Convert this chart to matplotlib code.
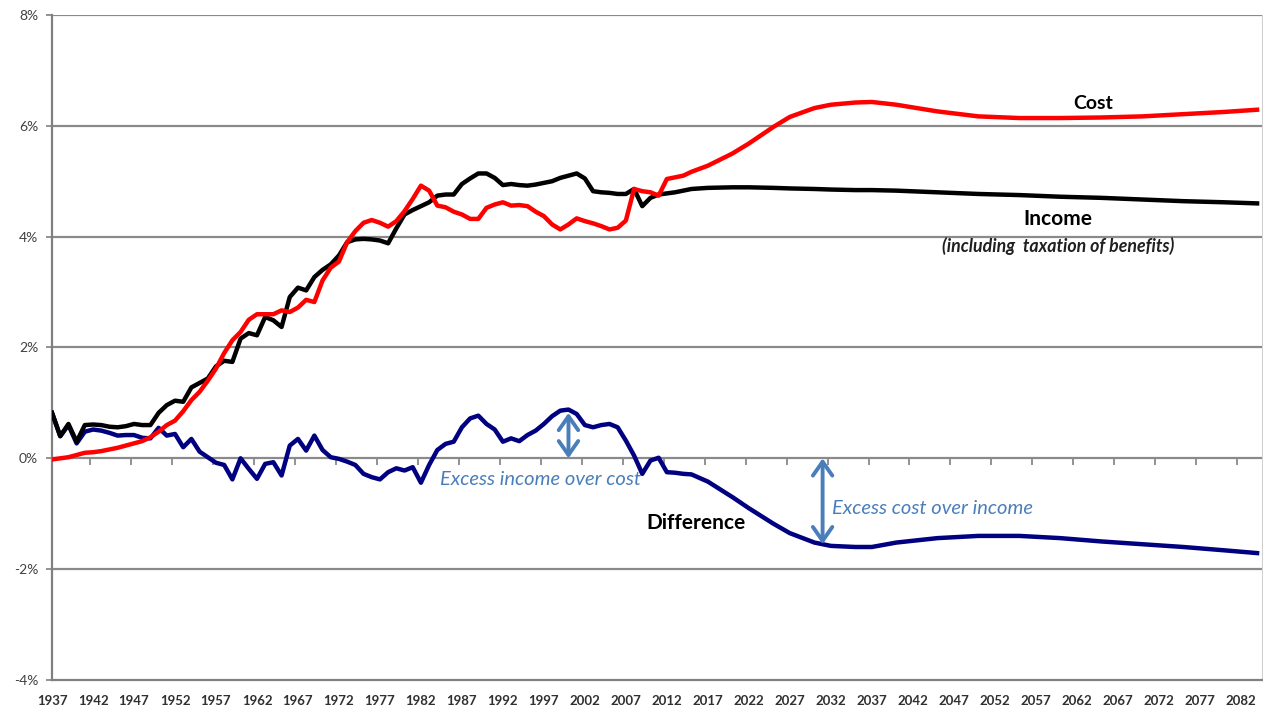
import matplotlib
matplotlib.use("Agg")
import matplotlib.pyplot as plt
import numpy as np

plt.rcParams['font.family'] = ['Lato', 'DejaVu Sans']

# annual history, then sparser projection points
years = list(range(1937, 2016)) + [2017, 2020, 2022, 2025, 2027, 2030, 2032, 2035, 2037,
                                   2040, 2045, 2050, 2055, 2060, 2065, 2070, 2075, 2080, 2084]

income = [0.82, 0.40, 0.62, 0.30, 0.60, 0.61, 0.60, 0.57, 0.56, 0.58,
          0.62, 0.60, 0.60, 0.82, 0.96, 1.04, 1.02, 1.28, 1.36, 1.44,
          1.66, 1.76, 1.74, 2.16, 2.26, 2.22, 2.55, 2.49, 2.37, 2.91,
          3.08, 3.03, 3.27, 3.40, 3.50, 3.66, 3.90, 3.95, 3.96, 3.95,
          3.93, 3.88, 4.15, 4.40, 4.48, 4.55, 4.62, 4.74, 4.76, 4.76,
          4.95, 5.05, 5.14, 5.14, 5.06, 4.93, 4.95, 4.93, 4.92, 4.94,
          4.97, 5.00, 5.06, 5.10, 5.14, 5.05, 4.82, 4.80, 4.79, 4.77,
          4.77, 4.86, 4.55, 4.70, 4.76, 4.78, 4.80, 4.83, 4.86,
          4.88, 4.89, 4.89, 4.88, 4.87, 4.86, 4.85, 4.84, 4.84,
          4.83, 4.80, 4.77, 4.75, 4.72, 4.70, 4.67, 4.64, 4.62, 4.60]

cost = [-0.02, 0.00, 0.02, 0.06, 0.10, 0.11, 0.13, 0.16, 0.19, 0.23,
        0.27, 0.31, 0.38, 0.48, 0.60, 0.68, 0.85, 1.05, 1.20, 1.40,
        1.62, 1.90, 2.13, 2.28, 2.50, 2.60, 2.60, 2.60, 2.67, 2.64,
        2.72, 2.86, 2.82, 3.21, 3.44, 3.55, 3.90, 4.10, 4.25, 4.30,
        4.25, 4.18, 4.28, 4.46, 4.68, 4.92, 4.83, 4.56, 4.53, 4.45,
        4.40, 4.32, 4.32, 4.52, 4.58, 4.62, 4.56, 4.57, 4.55, 4.45,
        4.37, 4.22, 4.13, 4.22, 4.33, 4.28, 4.24, 4.19, 4.13, 4.16,
        4.29, 4.86, 4.82, 4.80, 4.74, 5.04, 5.07, 5.10, 5.17,
        5.28, 5.50, 5.68, 5.98, 6.16, 6.32, 6.38, 6.42, 6.43,
        6.38, 6.26, 6.17, 6.14, 6.14, 6.15, 6.17, 6.21, 6.25, 6.29]

difference = [0.82, 0.40, 0.60, 0.27, 0.48, 0.52, 0.50, 0.46, 0.41, 0.42,
              0.42, 0.37, 0.36, 0.55, 0.41, 0.44, 0.20, 0.35, 0.12, 0.02,
              -0.08, -0.12, -0.38, 0.00, -0.19, -0.37, -0.10, -0.07, -0.31, 0.23,
              0.35, 0.14, 0.41, 0.15, 0.02, -0.01, -0.06, -0.12, -0.28, -0.34,
              -0.38, -0.25, -0.18, -0.22, -0.16, -0.44, -0.12, 0.15, 0.26, 0.30,
              0.56, 0.72, 0.77, 0.62, 0.52, 0.30, 0.36, 0.31, 0.42, 0.50,
              0.62, 0.76, 0.86, 0.88, 0.80, 0.60, 0.56, 0.60, 0.62, 0.56,
              0.32, 0.05, -0.28, -0.04, 0.01, -0.25, -0.26, -0.28, -0.29,
              -0.42, -0.70, -0.90, -1.18, -1.35, -1.52, -1.58, -1.60, -1.60,
              -1.52, -1.44, -1.40, -1.40, -1.44, -1.50, -1.55, -1.60, -1.66, -1.71]

label_years = list(range(1937, 2083, 5))
y_ticks = [-4, -2, 0, 2, 4, 6, 8]
y_labels = ['-4%', '-2%', '0%', '2%', '4%', '6%', '8%']

fig = plt.figure(figsize=(12.63, 7.09), dpi=100)
ax = fig.add_axes([0.0412, 0.0409, 0.958, 0.938])

for v in y_ticks[1:]:
    ax.axhline(v, color='#8a8a8a', lw=1.6, zorder=1)

ax.plot(years, difference, color='#000080', lw=3.2, zorder=3, solid_joinstyle='round')
ax.plot(years, income, color='black', lw=3.2, zorder=4, solid_joinstyle='round')
ax.plot(years, cost, color='#ff0000', lw=3.2, zorder=5, solid_joinstyle='round')

ax.set_xlim(1937, 2084.6)
ax.set_ylim(-4, 8)
ax.set_yticks(y_ticks)
ax.set_yticklabels(y_labels, fontsize=10, color='#404040')
ax.set_xticks(label_years)
ax.set_xticklabels([str(y) for y in label_years], fontsize=9.5, color='#303030',
                   fontweight='bold')
ax.tick_params(axis='x', length=0, pad=11)
ax.tick_params(axis='y', length=4, color='#808080', width=1.2, pad=6)

for s in ['left', 'bottom']:
    ax.spines[s].set_color('#808080')
    ax.spines[s].set_linewidth(1.6)
ax.spines['top'].set_visible(False)
ax.spines['right'].set_color('#d0d0d0')

# tick marks along the 0% line
zero_axis = ax.secondary_xaxis(1 / 3)
zero_axis.set_xticks([y + 4.6 for y in label_years])
zero_axis.set_xticklabels([])
zero_axis.tick_params(direction='out', length=5, width=1.2, color='#808080')
zero_axis.spines['bottom'].set_visible(False)

ax.text(2064, 6.41, 'Cost', fontsize=14, fontweight='bold', ha='center', va='center')
ax.text(2059.7, 4.32, 'Income', fontsize=15, fontweight='bold', ha='center', va='center')
ax.text(2059.7, 3.84, '(including  taxation of benefits)', fontsize=12.8, style='italic',
        fontweight='bold', ha='center', va='center', color='#202020')
ax.text(2015.5, -1.17, 'Difference', fontsize=15, fontweight='bold', ha='center', va='center')

note_color = '#4A7EBB'
ax.text(1984.3, -0.38, 'Excess income over cost', fontsize=14.5, style='italic',
        color=note_color, ha='left', va='center')
ax.text(2032.1, -0.9, 'Excess cost over income', fontsize=14.5, style='italic',
        color=note_color, ha='left', va='center')

arrow = dict(arrowstyle='<->, head_length=0.5, head_width=0.35', color=note_color,
             lw=2.8, mutation_scale=20, shrinkA=0, shrinkB=0)
ax.annotate('', xy=(2000, 0.0), xytext=(2000, 0.82), arrowprops=arrow, zorder=6)
ax.annotate('', xy=(2031, 0.0), xytext=(2031, -1.55), arrowprops=arrow, zorder=6)

fig.savefig('out.png', dpi=100)
